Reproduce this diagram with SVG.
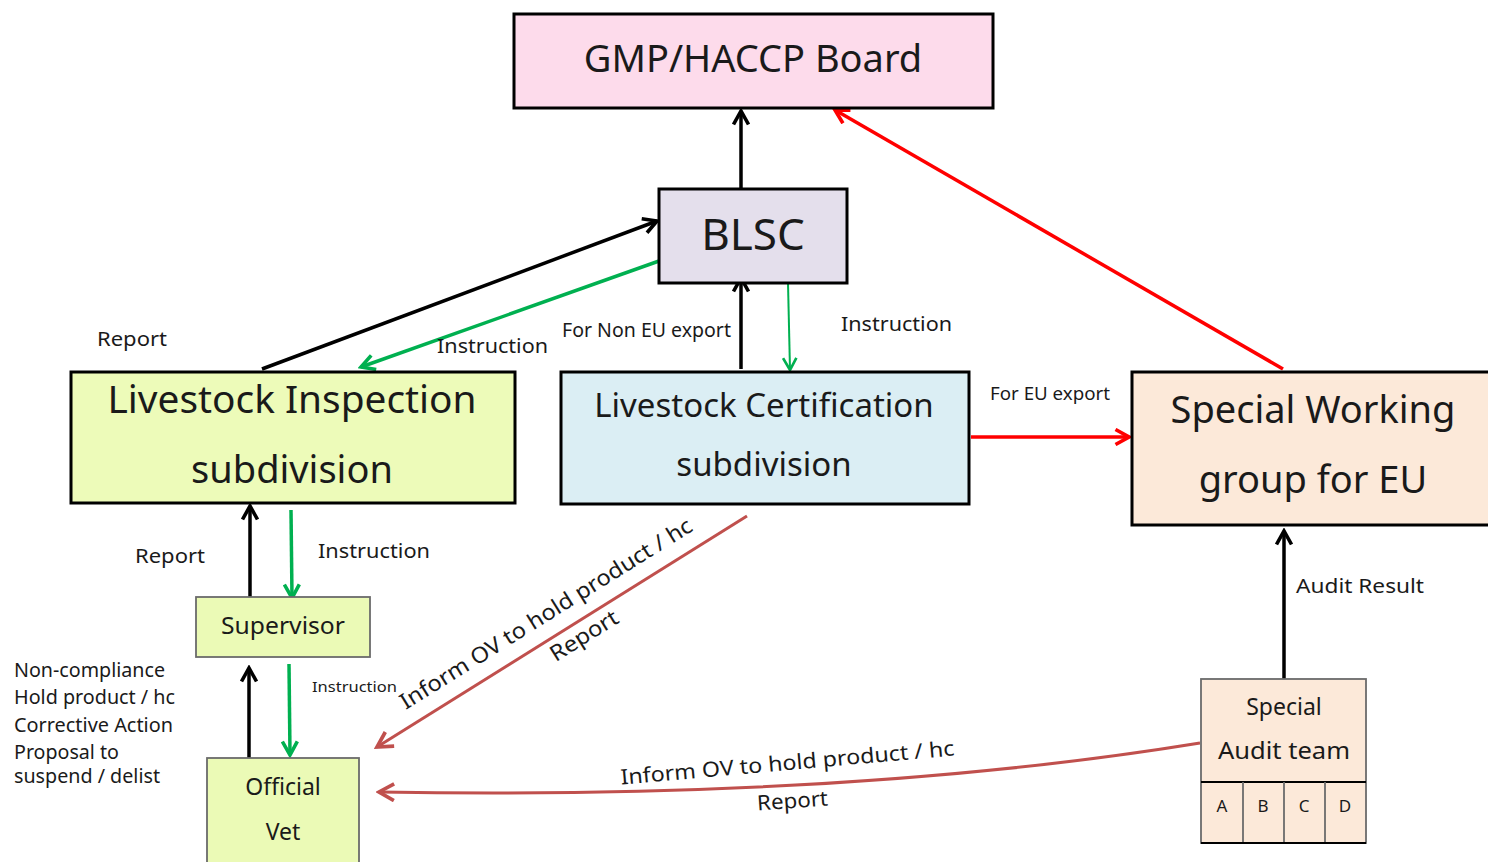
<svg xmlns="http://www.w3.org/2000/svg" width="1488" height="862" viewBox="0 0 1488 862">
  <style>
    text { font-family: "Noto Sans", "Open Sans", "DejaVu Sans", sans-serif; fill: #1a1a1a; }
    .box { stroke: #000; stroke-width: 3; }
    .thin { stroke: #6b6b6b; stroke-width: 1.8; }
    .mid { text-anchor: middle; }
    .blk { stroke: #000; stroke-width: 3.5; fill: none; }
    .grn { stroke: #00b050; stroke-width: 3.5; fill: none; }
    .grn2 { stroke: #00b050; stroke-width: 2; fill: none; }
    .red { stroke: #ff0000; stroke-width: 3.5; fill: none; }
    .brn { stroke: #c0504d; stroke-width: 3; fill: none; }
    .lbl { font-size: 20px; }
  </style>
  <defs>
    <marker id="aBlk" viewBox="0 0 12 12" refX="10" refY="6" markerWidth="18" markerHeight="18" markerUnits="userSpaceOnUse" orient="auto">
      <path d="M1,1 L10,6 L1,11" fill="none" stroke="#000" stroke-width="2.4"/>
    </marker>
    <marker id="aGrn" viewBox="0 0 12 12" refX="10" refY="6" markerWidth="18" markerHeight="18" markerUnits="userSpaceOnUse" orient="auto">
      <path d="M1,1 L10,6 L1,11" fill="none" stroke="#00b050" stroke-width="2.4"/>
    </marker>
    <marker id="aGrn2" viewBox="0 0 12 12" refX="10" refY="6" markerWidth="16" markerHeight="16" markerUnits="userSpaceOnUse" orient="auto">
      <path d="M1,1 L10,6 L1,11" fill="none" stroke="#00b050" stroke-width="2"/>
    </marker>
    <marker id="aRed" viewBox="0 0 12 12" refX="10" refY="6" markerWidth="18" markerHeight="18" markerUnits="userSpaceOnUse" orient="auto">
      <path d="M1,1 L10,6 L1,11" fill="none" stroke="#ff0000" stroke-width="2.4"/>
    </marker>
    <marker id="aBrn" viewBox="0 0 12 12" refX="10" refY="6" markerWidth="20" markerHeight="20" markerUnits="userSpaceOnUse" orient="auto">
      <path d="M1,1 L10,6 L1,11" fill="none" stroke="#c0504d" stroke-width="2.2"/>
    </marker>
  </defs>

  <rect width="1488" height="862" fill="#fff"/>

  <!-- connectors -->
  <g id="connectors">
    <line class="blk" x1="741" y1="189" x2="741" y2="111" marker-end="url(#aBlk)"/>
    <line class="red" x1="1283" y1="369" x2="835" y2="110" marker-end="url(#aRed)"/>
    <line class="blk" x1="262" y1="369" x2="657" y2="221" marker-end="url(#aBlk)"/>
    <line class="grn" x1="659" y1="261" x2="361" y2="367" marker-end="url(#aGrn)"/>
    <line class="blk" x1="741" y1="369" x2="741" y2="278" marker-end="url(#aBlk)"/>
    <line class="grn2" x1="788" y1="283" x2="790" y2="370" marker-end="url(#aGrn2)"/>
    <line class="red" x1="971" y1="437" x2="1129" y2="437" marker-end="url(#aRed)"/>
    <line class="blk" x1="250" y1="597" x2="250" y2="506" marker-end="url(#aBlk)"/>
    <line class="grn" x1="291" y1="510" x2="292" y2="598" marker-end="url(#aGrn)"/>
    <line class="blk" x1="249" y1="758" x2="249" y2="668" marker-end="url(#aBlk)"/>
    <line class="grn" x1="289" y1="664" x2="290" y2="755" marker-end="url(#aGrn)"/>
    <line class="blk" x1="1284" y1="679" x2="1284" y2="531" marker-end="url(#aBlk)"/>
    <line class="brn" x1="747" y1="516" x2="377" y2="747" marker-end="url(#aBrn)"/>
    <path class="brn" d="M1200,743 Q850,800 379,792" marker-end="url(#aBrn)"/>

    <!-- connector labels -->
    <text class="lbl" x="97" y="346" textLength="70" lengthAdjust="spacingAndGlyphs">Report</text>
    <text class="lbl" x="437" y="353" textLength="111" lengthAdjust="spacingAndGlyphs">Instruction</text>
    <text x="562" y="337" font-size="19" textLength="169" lengthAdjust="spacingAndGlyphs">For Non EU export</text>
    <text x="841" y="331" font-size="19" textLength="111" lengthAdjust="spacingAndGlyphs">Instruction</text>
    <text x="990" y="400" font-size="18" textLength="120" lengthAdjust="spacingAndGlyphs">For EU export</text>
    <text class="lbl" x="135" y="563" textLength="70" lengthAdjust="spacingAndGlyphs">Report</text>
    <text class="lbl" x="318" y="558" textLength="112" lengthAdjust="spacingAndGlyphs">Instruction</text>
    <text x="312" y="692" font-size="15" textLength="85" lengthAdjust="spacingAndGlyphs">Instruction</text>
    <text class="lbl" x="1296" y="593" textLength="128" lengthAdjust="spacingAndGlyphs">Audit Result</text>
    <text class="mid" font-size="22" transform="translate(550,620) rotate(-32)" textLength="340" lengthAdjust="spacingAndGlyphs">Inform OV to hold product / hc</text>
    <text class="mid" font-size="22" transform="translate(588,642) rotate(-32)" textLength="76" lengthAdjust="spacingAndGlyphs">Report</text>
    <text class="mid" font-size="21" transform="translate(788,770) rotate(-5)" textLength="335" lengthAdjust="spacingAndGlyphs">Inform OV to hold product / hc</text>
    <text class="mid" font-size="21" transform="translate(793,808) rotate(-4)" textLength="71" lengthAdjust="spacingAndGlyphs">Report</text>
  </g>

  <!-- side notes -->
  <g id="notes" font-size="19">
    <text x="14" y="677" textLength="151" lengthAdjust="spacingAndGlyphs">Non-compliance</text>
    <text x="14" y="704" textLength="161" lengthAdjust="spacingAndGlyphs">Hold product / hc</text>
    <text x="14" y="732" textLength="159" lengthAdjust="spacingAndGlyphs">Corrective Action</text>
    <text x="14" y="759" textLength="105" lengthAdjust="spacingAndGlyphs">Proposal to</text>
    <text x="14" y="783" textLength="146" lengthAdjust="spacingAndGlyphs">suspend / delist</text>
  </g>

  <g id="gmp-board">
    <rect class="box" x="514" y="14" width="479" height="94" fill="#fddbeb"/>
    <text class="mid" x="753" y="72" font-size="38">GMP/HACCP Board</text>
  </g>

  <g id="blsc">
    <rect class="box" x="659" y="189" width="188" height="94" fill="#e4dfec"/>
    <text class="mid" x="753" y="250" font-size="44">BLSC</text>
  </g>

  <g id="inspection">
    <rect class="box" x="71" y="372" width="444" height="131" fill="#edfbb9"/>
    <text class="mid" x="292" y="413" font-size="38" textLength="369" lengthAdjust="spacingAndGlyphs">Livestock Inspection</text>
    <text class="mid" x="292" y="483" font-size="38">subdivision</text>
  </g>

  <g id="certification">
    <rect class="box" x="561" y="372" width="408" height="132" fill="#dbeef4"/>
    <text class="mid" x="764" y="417" font-size="33">Livestock Certification</text>
    <text class="mid" x="764" y="476" font-size="33">subdivision</text>
  </g>

  <g id="working-group">
    <rect class="box" x="1132" y="372" width="362" height="153" fill="#fce9d9"/>
    <text class="mid" x="1313" y="423" font-size="38">Special Working</text>
    <text class="mid" x="1313" y="493" font-size="38">group for EU</text>
  </g>

  <g id="supervisor">
    <rect class="thin" x="196" y="597" width="174" height="60" fill="#ebfab6"/>
    <text class="mid" x="283" y="634" font-size="23" textLength="124" lengthAdjust="spacingAndGlyphs">Supervisor</text>
  </g>

  <g id="official-vet">
    <rect class="thin" x="207" y="758" width="152" height="110" fill="#ebfab6"/>
    <text class="mid" x="283" y="795" font-size="23">Official</text>
    <text class="mid" x="283" y="840" font-size="23">Vet</text>
  </g>

  <g id="audit-team">
    <rect class="thin" x="1201" y="679" width="165" height="164" fill="#fce9d9"/>
    <line x1="1201" y1="782" x2="1366" y2="782" stroke="#000" stroke-width="1.8"/>
    <line x1="1243" y1="782" x2="1243" y2="843" class="thin"/>
    <line x1="1284" y1="782" x2="1284" y2="843" class="thin"/>
    <line x1="1325" y1="782" x2="1325" y2="843" class="thin"/>
    <line x1="1201" y1="843" x2="1366" y2="843" stroke="#000" stroke-width="1.8"/>
    <text class="mid" x="1284" y="715" font-size="23">Special</text>
    <text class="mid" x="1284" y="759" font-size="23" textLength="132" lengthAdjust="spacingAndGlyphs">Audit team</text>
    <text class="mid" x="1222" y="812" font-size="17">A</text>
    <text class="mid" x="1263" y="812" font-size="17">B</text>
    <text class="mid" x="1304" y="812" font-size="17">C</text>
    <text class="mid" x="1345" y="812" font-size="17">D</text>
  </g>
</svg>
